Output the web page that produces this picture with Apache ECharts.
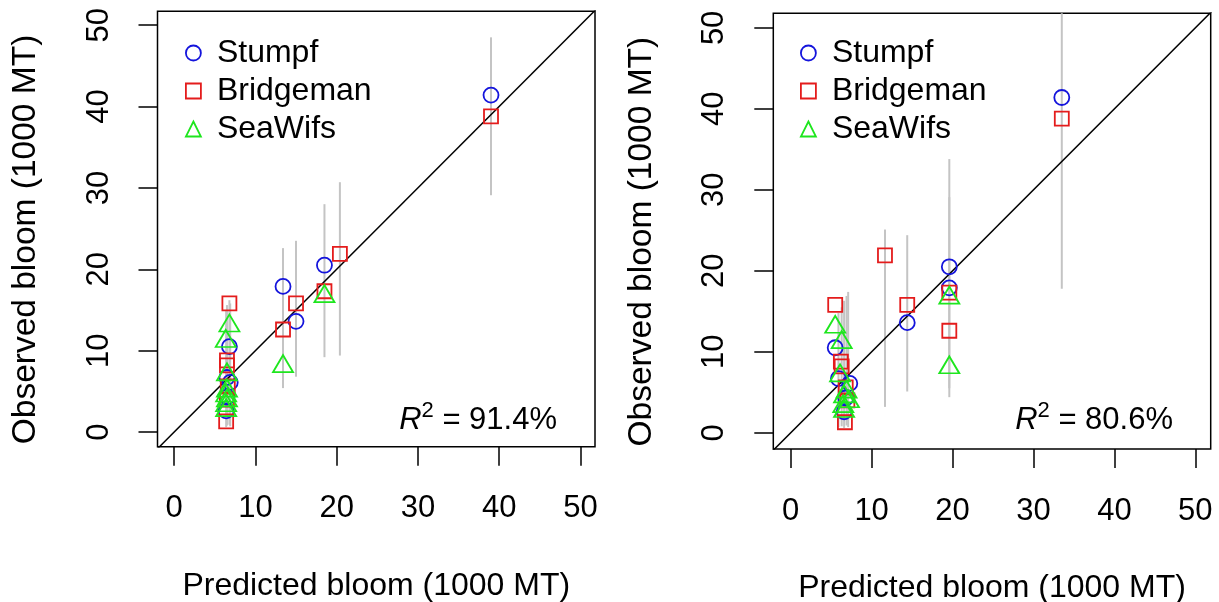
<!DOCTYPE html>
<html><head><meta charset="utf-8">
<script src="https://cdn.jsdelivr.net/npm/echarts@6/dist/echarts.min.js"></script>
<style>html,body{margin:0;padding:0;background:#fff}#c{width:1219px;height:602px}</style>
</head><body><div id="c"></div>
<script>
// ---- data ----
const SERIES_NAMES = ['Stumpf', 'Bridgeman', 'SeaWifs'];
// observed bloom, with predicted value under model A (left) and model B (right)
const STUMPF_OBS       = [41.4, 20.5, 17.9, 13.6, 10.5, 6.7, 6.1, 4.3, 2.6];
const STUMPF_PRED_A    = [39.0, 18.5, 13.4, 15.0, 6.8, 6.5, 6.9, 6.5, 6.4];
const STUMPF_PRED_B    = [33.5, 19.6, 19.6, 14.4, 5.5, 5.9, 7.3, 6.8, 6.6];
const BRIDGEMAN_OBS    = [38.8, 21.9, 17.3, 15.8, 12.6, 15.8, 8.8, 8.2, 5.6, 4.0, 1.3];
const BRIDGEMAN_PRED_A = [39.0, 20.4, 18.5, 15.0, 13.4, 6.8, 6.5, 6.5, 6.6, 6.5, 6.4];
const BRIDGEMAN_PRED_B = [33.5, 11.65, 19.6, 14.4, 19.6, 5.5, 6.2, 6.3, 6.8, 7.0, 6.7];
const SEAWIFS_OBS      = [17.0, 8.4, 13.4, 11.5, 7.4, 5.4, 4.8, 4.2, 3.6, 3.0];
const SEAWIFS_PRED_A   = [18.5, 13.4, 6.8, 6.35, 6.5, 6.5, 6.4, 6.5, 6.4, 6.4];
const SEAWIFS_PRED_B   = [19.6, 19.6, 5.5, 6.3, 6.1, 6.9, 6.6, 7.2, 6.5, 6.6];
// prediction intervals (grey vertical bars)
const PI_A_X  = [39.0, 20.4, 18.5, 15.0, 13.4, 6.4, 6.5, 6.8, 6.9];
const PI_A_LO = [29.1, 9.4, 9.2, 6.8, 5.4, 0.6, 0.8, 0.9, 0.7];
const PI_A_HI = [48.5, 30.7, 28.0, 23.5, 22.6, 15.0, 15.6, 16.2, 15.8];
const PI_B_X  = [33.5, 11.65, 14.4, 19.6, 19.6, 5.9, 6.3, 6.6, 6.9, 7.1];
const PI_B_LO = [17.8, 3.2, 5.1, 4.4, 5.5, 0.7, 0.8, 0.6, 0.9, 0.7];
const PI_B_HI = [65.0, 25.1, 24.4, 33.8, 29.1, 14.8, 15.5, 16.3, 16.9, 17.4];
const TICKS = [0, 10, 20, 30, 40, 50];
const ONE_TO_ONE = [-10, 60];
const R2_LABELS = ['91.4%', '80.6%'];
const X_TITLE = 'Predicted bloom (1000 MT)';
const Y_TITLE = 'Observed bloom (1000 MT)';

// ---- styling ----
const FONT = '"Liberation Sans", Arial, Helvetica, sans-serif';
const COLORS = ['#1414dc', '#e41c1c', '#1ee61e'];
const SYMBOLS = ['circle', 'rect', 'triangle'];
const SIZES = [15, 14, [20, 17]];
const GRIDS = [
  { left: 157.5, top: 11.3, width: 437.5, height: 435.4, xmin: -2.05, xmax: 51.8, ymin: -1.8, ymax: 51.7 },
  { left: 773.3, top: 13.3, width: 437.4, height: 435.7, xmin: -2.15, xmax: 51.9, ymin: -2.0, ymax: 51.8 }
];

const zip = (xs, ys) => xs.map((x, i) => [x, ys[i]]);
const PANELS = [
  { obs: [zip(STUMPF_PRED_A, STUMPF_OBS), zip(BRIDGEMAN_PRED_A, BRIDGEMAN_OBS), zip(SEAWIFS_PRED_A, SEAWIFS_OBS)],
    pi: PI_A_X.map((x, i) => [x, PI_A_LO[i], PI_A_HI[i]]) },
  { obs: [zip(STUMPF_PRED_B, STUMPF_OBS), zip(BRIDGEMAN_PRED_B, BRIDGEMAN_OBS), zip(SEAWIFS_PRED_B, SEAWIFS_OBS)],
    pi: PI_B_X.map((x, i) => [x, PI_B_LO[i], PI_B_HI[i]]) }
];

function renderBar(params, api) {
  const x = api.value(0), lo = api.value(1), hi = api.value(2);
  const p1 = api.coord([x, lo]), p2 = api.coord([x, hi]);
  const cs = params.coordSys;
  const top = Math.max(cs.y, Math.min(p1[1], p2[1]));
  const bot = Math.min(cs.y + cs.height, Math.max(p1[1], p2[1]));
  return { type: 'line', shape: { x1: p1[0], y1: bot, x2: p2[0], y2: top },
           style: { stroke: '#c4c4c4', lineWidth: 2 } };
}

const textBase = { fontFamily: FONT, color: '#000', fontSize: 31 };
const option = {
  animation: false,
  backgroundColor: '#fff',
  grid: GRIDS.map(g => ({ left: g.left, top: g.top, width: g.width, height: g.height,
    outerBoundsMode: 'none', containLabel: false,
    show: true, borderColor: '#000', borderWidth: 1.5, backgroundColor: 'transparent' })),
  xAxis: GRIDS.map((g, i) => ({
    gridIndex: i, type: 'value', min: g.xmin, max: g.xmax,
    axisLine: { show: false, onZero: false }, splitLine: { show: false },
    axisTick: { show: true, inside: false, length: 19, customValues: TICKS, lineStyle: { color: '#000', width: 1.5 } },
    axisLabel: Object.assign({ customValues: TICKS, margin: 46.5 }, textBase),
    name: X_TITLE, nameLocation: 'middle', nameGap: 123,
    nameTextStyle: Object.assign({}, textBase, { fontSize: 32 })
  })),
  yAxis: GRIDS.map((g, i) => ({
    gridIndex: i, type: 'value', min: g.ymin, max: g.ymax,
    axisLine: { show: false, onZero: false }, splitLine: { show: false },
    axisTick: { show: true, inside: false, length: 19, customValues: TICKS, lineStyle: { color: '#000', width: 1.5 } },
    axisLabel: Object.assign({ customValues: TICKS, margin: 43, rotate: 90 }, textBase),
    name: Y_TITLE, nameLocation: 'middle', nameGap: 115,
    nameTextStyle: Object.assign({}, textBase, { fontSize: 33.5, padding: [0, 21, 0, 0] })
  })),
  legend: [0, 1].map(i => ({
    left: [180, 795][i], top: 29, orient: 'vertical', itemWidth: 15, itemHeight: 15, itemGap: 0,
    selectedMode: false,
    textStyle: { fontFamily: FONT, color: '#000', fontSize: 32, lineHeight: 38, padding: [0, 0, 0, 11] },
    data: SERIES_NAMES.map((n, k) => ({ name: n, icon: SYMBOLS[k],
      itemStyle: { color: 'rgba(0,0,0,0)', borderColor: COLORS[k], borderWidth: 1.8 } }))
  })),
  graphic: R2_LABELS.map((t, i) => ({
    type: 'text', x: [557, 1173][i], y: 420.5, z: 10,
    style: {
      text: '{r|R}{s|2}{t| = ' + t + '}', align: 'right', verticalAlign: 'middle',
      rich: {
        r: { fontFamily: FONT, fontSize: 31, fontStyle: 'italic', lineHeight: 42, fill: '#000' },
        s: { fontFamily: FONT, fontSize: 22, lineHeight: 22, verticalAlign: 'top', fill: '#000' },
        t: { fontFamily: FONT, fontSize: 31, lineHeight: 42, fill: '#000' }
      }
    }
  })),
  series: []
};

PANELS.forEach((p, i) => {
  option.series.push({
    type: 'custom', name: 'PI' + i, xAxisIndex: i, yAxisIndex: i, z: 1, silent: true,
    renderItem: renderBar, data: p.pi, encode: { x: 0, y: [1, 2] }
  });
  option.series.push({
    type: 'line', name: '1:1 ' + i, xAxisIndex: i, yAxisIndex: i, z: 2, silent: true, clip: true,
    symbol: 'none', data: ONE_TO_ONE.map(v => [v, v]), lineStyle: { color: '#000', width: 1.5 }
  });
  p.obs.forEach((d, k) => {
    option.series.push({
      type: 'scatter', name: SERIES_NAMES[k], xAxisIndex: i, yAxisIndex: i, z: 3,
      symbol: SYMBOLS[k], symbolSize: SIZES[k], data: d,
      itemStyle: { color: 'rgba(0,0,0,0)', borderColor: COLORS[k], borderWidth: 1.8, opacity: 1 }
    });
  });
});

const chart = echarts.init(document.getElementById('c'), null, { renderer: 'canvas' });
chart.setOption(option);
</script>
</body></html>
